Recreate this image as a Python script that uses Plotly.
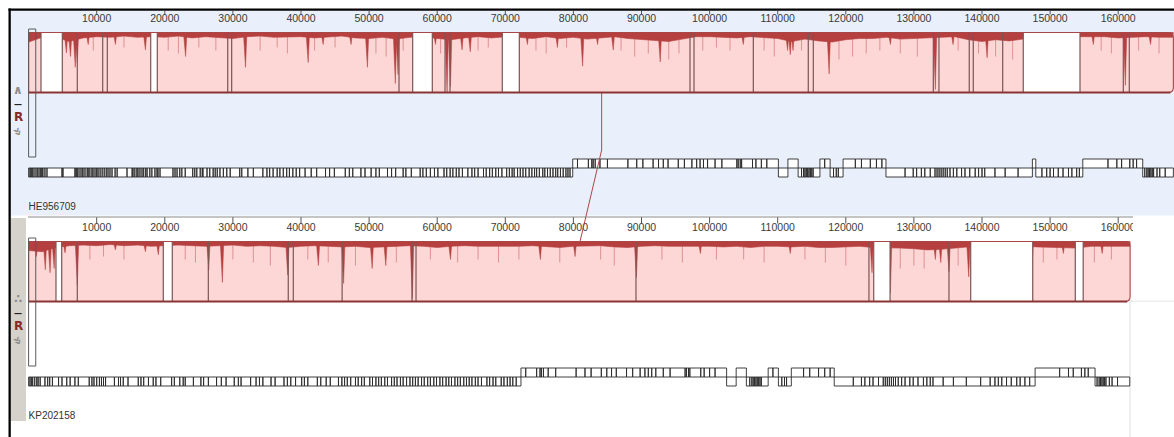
import plotly.graph_objects as go

W, H = 1174, 437

# ---------------- data ----------------
genome_names = ["HE956709", "KP202158"]
genome_lengths = [168100, 161750]

tick_values = [10000, 20000, 30000, 40000, 50000, 60000, 70000, 80000,
               90000, 100000, 110000, 120000, 130000, 140000, 150000, 160000]
tick_labels = [str(v) for v in tick_values]

# unaligned (white) stretches inside the block, bp
gap_starts_he = [1820, 17930, 56400, 69560, 146060]
gap_ends_he = [4950, 18900, 59280, 72060, 154390]
gap_starts_kp = [4020, 19780, 124100, 138340, 153700]
gap_ends_kp = [4860, 21100, 126500, 147450, 154860]

# block boundary lines, bp
lines_he = [1820, 4950, 7150, 10880, 11560, 17930, 18900, 29240, 29820, 54390,
            56400, 59280, 61150, 61880, 69560, 72060, 97120, 97710, 106420,
            114490, 115230, 132850, 133680, 138130, 138720, 143040, 146060,
            154390, 160750, 161630]
lines_kp = [4020, 4860, 7150, 19780, 21100, 26390, 38130, 38870, 46040, 56300,
            56890, 89190, 123400, 124100, 126500, 135150, 138340, 147450,
            153700, 154860]

# similarity fringe depth (fraction of block height), one value every 2 kb
fringe_he = [0.16, 0.08, 0.08, 0.15, 0.09, 0.07, 0.08, 0.06, 0.08, 0.07,
             0.08, 0.06, 0.09, 0.07, 0.08, 0.10, 0.07, 0.06, 0.08, 0.07,
             0.07, 0.09, 0.07, 0.06, 0.09, 0.10, 0.08, 0.11, 0.08, 0.07,
             0.10, 0.12, 0.09, 0.07, 0.09, 0.07, 0.08, 0.10, 0.07, 0.10,
             0.08, 0.11, 0.09, 0.07, 0.10, 0.12, 0.13, 0.15, 0.11, 0.07,
             0.07, 0.08, 0.09, 0.07, 0.09, 0.10, 0.15, 0.11, 0.14, 0.16,
             0.12, 0.10, 0.10, 0.08, 0.11, 0.10, 0.08, 0.07, 0.07, 0.12,
             0.15, 0.12, 0.14, 0.11, 0.07, 0.07, 0.07, 0.08, 0.08, 0.07,
             0.09, 0.08, 0.07, 0.08, 0.08]
fringe_kp = [0.15, 0.17, 0.10, 0.07, 0.06, 0.07, 0.05, 0.07, 0.06, 0.08,
             0.07, 0.06, 0.07, 0.08, 0.07, 0.06, 0.08, 0.07, 0.08, 0.10,
             0.08, 0.07, 0.08, 0.09, 0.08, 0.10, 0.09, 0.08, 0.07, 0.08,
             0.10, 0.08, 0.07, 0.08, 0.08, 0.09, 0.08, 0.07, 0.09, 0.10,
             0.08, 0.08, 0.07, 0.09, 0.10, 0.08, 0.07, 0.08, 0.08, 0.07,
             0.08, 0.09, 0.08, 0.10, 0.08, 0.08, 0.09, 0.08, 0.10, 0.10,
             0.09, 0.08, 0.10, 0.10, 0.11, 0.12, 0.14, 0.13, 0.11, 0.10,
             0.07, 0.07, 0.07, 0.07, 0.09, 0.10, 0.10, 0.11, 0.08, 0.08,
             0.08, 0.08]

# low-similarity spikes: position (bp) and depth (fraction of block height)
spike_pos_he = [5500, 6100, 6800, 7100, 8700, 12700, 17100, 23000, 31800, 41000,
                43200, 47300, 49700, 53800, 54200, 59700, 61400, 61900, 63600,
                64800, 73200, 77600, 81300, 83500, 85800, 92700, 104900, 111400,
                111800, 112200, 117500, 126500, 133100, 135700, 140700, 156300,
                161000, 164700]
spike_dep_he = [0.34, 0.40, 0.58, 0.50, 0.20, 0.20, 0.29, 0.40, 0.58, 0.50,
                0.20, 0.20, 0.58, 0.85, 0.70, 0.20, 1.00, 0.90, 0.29,
                0.32, 0.20, 0.25, 0.56, 0.20, 0.29, 0.49, 0.20, 0.30,
                0.37, 0.30, 0.69, 0.20, 0.95, 0.20, 0.42, 0.20,
                0.88, 0.20]
spike_pos_kp = [1100, 2400, 3100, 3700, 5300, 7100, 12700, 17100, 19000, 26400,
                28400, 38000, 42500, 46200, 50400, 52400, 56300, 61900, 75100,
                80200, 89200, 98600, 111800, 123800, 126500, 133100, 133900,
                135100, 138000, 147300, 151900, 154400, 157600]
spike_dep_kp = [0.25, 0.47, 0.52, 0.45, 0.19, 0.73, 0.14, 0.17, 0.22, 0.47,
                0.68, 0.56, 0.40, 0.70, 0.45, 0.40, 0.95, 0.30, 0.30,
                0.25, 0.60, 0.20, 0.20, 0.52, 0.86, 0.30, 0.35,
                0.50, 0.59, 0.40, 0.20, 0.93, 0.20]

# faint hairline dips in the similarity profile: position (kb), depth (fraction)
hair_pos_he = [9.5, 14, 20.5, 22, 25, 27.5, 34, 36.5, 38, 42, 45, 51, 52.5, 55,
               60.5, 66, 67.5, 74.5, 76, 79, 87, 89, 91, 94, 95.5, 99, 101, 103,
               108, 109.5, 113.5, 119, 121, 123, 125, 128, 130.5, 136.5, 139.5,
               142, 144.5, 157.5, 159, 163, 166]
hair_dep_he = [0.30, 0.25, 0.30, 0.35, 0.25, 0.30, 0.30, 0.25, 0.35, 0.30, 0.25,
               0.35, 0.40, 0.30, 0.35, 0.30, 0.25, 0.30, 0.35, 0.25, 0.30, 0.40,
               0.35, 0.45, 0.35, 0.30, 0.25, 0.30, 0.30, 0.40, 0.30, 0.45, 0.40,
               0.35, 0.30, 0.35, 0.40, 0.30, 0.35, 0.40, 0.45, 0.30, 0.35, 0.30,
               0.35]
hair_pos_kp = [9, 11, 14, 23, 24.5, 30, 33, 35.5, 41, 44, 48, 54, 59, 63, 66, 69,
               72, 78, 84, 86, 93, 96, 101, 105, 108, 114, 117, 120, 128, 130,
               131.5, 136.5, 149, 151, 156.5, 159]
hair_dep_kp = [0.30, 0.25, 0.30, 0.30, 0.35, 0.30, 0.35, 0.40, 0.30, 0.35, 0.40,
               0.35, 0.30, 0.35, 0.30, 0.35, 0.30, 0.35, 0.30, 0.40, 0.30, 0.35,
               0.30, 0.30, 0.35, 0.30, 0.35, 0.40, 0.45, 0.40, 0.45, 0.40, 0.35,
               0.30, 0.35, 0.30]

# gene annotations: (strand, consecutive gene boundaries in kb)
genes_he = [
    (-1, [0.0, 0.2, 0.35, 0.5, 0.65, 0.94, 1.23, 1.38, 1.67, 1.82, 1.97, 2.1, 2.4,
          2.7, 4.9, 5.05, 6.8, 6.96, 7.1, 7.25, 7.55, 7.84, 7.99, 8.28, 8.6, 8.75,
          9.0, 9.3, 9.46, 9.75, 10.0, 10.2, 10.5, 10.8, 11.1, 11.4, 11.66, 11.95,
          12.25, 12.7, 13.0, 14.45, 15.2, 15.33, 15.6, 15.9, 16.06, 16.35, 16.65,
          16.9, 17.2, 17.4, 17.8, 18.1, 18.55, 18.85, 19.0, 19.3, 21.2, 21.5, 21.8,
          22.2, 22.5, 23.0, 24.1, 24.4, 24.7, 25.2, 25.5, 25.6, 26.2, 26.6, 27.1,
          27.4, 27.7, 28.1, 28.6, 29.1, 29.6, 31.0, 31.3, 32.2, 33.0, 34.4, 35.0,
          35.4, 35.9, 36.5, 36.9, 37.4, 37.9, 38.3, 38.8, 39.3, 39.8, 40.6, 41.5,
          42.3, 43.6, 44.2, 44.9, 46.5, 47.1, 47.6, 48.8, 49.4, 50.3, 51.0, 51.5,
          52.7, 53.3, 53.9, 55.0, 55.4, 56.2, 57.5, 57.9, 58.4, 59.0, 59.6, 60.1,
          61.0, 61.4, 61.9, 62.3, 62.8, 63.2, 63.7, 64.5, 65.1, 65.5, 66.0, 66.8,
          67.2, 67.7, 68.1, 68.6, 69.0, 69.5, 70.2, 70.6, 71.0, 71.3, 71.8, 72.2,
          72.6, 73.0, 73.5, 73.9, 74.3, 74.6, 75.0, 75.5, 75.8, 76.2, 76.6, 77.0,
          77.4, 77.7, 78.1, 78.5, 78.9, 79.2, 79.5, 79.9]),
    (1, [79.9, 80.6, 82.2, 82.7, 82.9, 83.2, 83.9, 85.0, 88.0, 89.3, 90.2, 91.7,
         92.5, 93.2, 93.9, 95.4, 96.3, 97.4, 98.1, 98.6, 99.1, 99.7, 100.8, 101.8,
         104.0, 104.2, 104.5, 104.7, 106.3, 106.8, 107.6, 108.4, 110.1]),
    (-1, [110.1, 111.5]),
    (1, [111.5, 113.0]),
    (-1, [113.0, 113.5, 113.8, 114.0, 114.2, 114.4, 114.6, 114.8, 115.0, 115.2, 116.2]),
    (1, [116.2, 116.9, 117.7]),
    (-1, [117.7, 118.2, 118.6, 118.9, 119.6]),
    (1, [119.6, 121.4, 122.3, 123.6, 124.5, 125.3, 125.9]),
    (-1, [125.9, 128.7, 129.9, 130.4, 131.1, 131.6, 132.4, 133.1, 133.4, 133.7,
          134.0, 134.3, 134.6, 134.9, 135.3, 135.8, 136.3, 137.0, 137.5, 138.2,
          139.0, 139.5, 140.0, 140.4, 141.9, 143.4, 145.3, 147.4]),
    (1, [147.4, 147.9]),
    (-1, [147.9, 148.8, 149.5, 150.0, 150.5, 151.2, 151.9, 152.7, 153.2, 153.9,
          154.3, 154.8]),
    (1, [154.8, 158.5, 159.8, 160.5, 161.7, 162.2, 162.7, 163.6]),
    (-1, [163.6, 163.9, 164.2, 164.4, 164.6, 164.8, 165.0, 165.2, 165.7, 166.1,
          166.9, 168.1]),
]
genes_kp = [
    (-1, [0.0, 0.2, 0.4, 0.6, 0.9, 1.2, 1.4, 1.7, 2.4, 2.8, 3.1, 3.5, 4.4, 4.9, 5.6,
          6.1, 6.8, 7.3, 8.9, 9.3, 9.6, 10.0, 10.4, 10.7, 11.0, 11.3, 12.6, 13.2,
          13.5, 13.9, 14.6, 16.1, 16.5, 16.9, 17.6, 18.3, 18.7, 19.4, 21.0, 21.4,
          22.2, 22.7, 23.0, 24.2, 25.3, 25.7, 26.4, 27.6, 28.3, 29.0, 30.2, 30.8,
          31.2, 32.6, 33.4, 33.9, 34.4, 35.6, 36.2, 37.5, 38.0, 38.5, 39.2, 40.1,
          40.5, 41.0, 42.4, 42.9, 43.7, 44.3, 45.5, 46.0, 46.4, 46.8, 47.3, 48.0,
          48.4, 48.9, 49.3, 50.1, 50.5, 51.0, 51.4, 51.8, 52.3, 52.7, 53.3, 53.7,
          54.1, 54.6, 55.0, 55.5, 56.0, 56.4, 56.8, 57.2, 57.7, 58.1, 58.6, 59.0,
          59.5, 59.9, 60.4, 60.8, 61.3, 61.7, 62.1, 62.6, 63.0, 63.4, 63.9, 64.3,
          64.7, 65.1, 65.6, 66.0, 66.5, 67.3, 67.7, 68.2, 68.6, 69.4, 69.8, 70.3,
          70.7, 71.1, 71.6, 72.3]),
    (1, [72.3, 73.0, 74.6, 75.1, 75.3, 75.6, 76.3, 77.4, 80.4, 81.7, 82.6, 84.1,
         84.9, 85.6, 86.3, 87.8, 88.7, 89.8, 90.5, 91.0, 91.5, 92.1, 93.2, 94.2,
         96.4, 96.6, 96.9, 97.1, 98.7, 99.2, 100.0, 100.8, 102.5]),
    (-1, [102.5, 103.9]),
    (1, [103.9, 105.4]),
    (-1, [105.4, 105.9, 106.2, 106.4, 106.6, 106.8, 107.0, 107.2, 107.4, 107.6, 108.6]),
    (1, [108.6, 109.3, 110.1]),
    (-1, [110.1, 110.6, 111.0, 111.3, 112.0]),
    (1, [112.0, 113.8, 114.7, 116.0, 116.9, 117.7, 118.3]),
    (-1, [118.3, 121.1, 122.3, 122.8, 123.5, 124.0, 124.8, 125.5, 125.8, 126.1,
          126.4, 126.7, 127.0, 127.3, 127.7, 128.2, 128.7, 129.4, 129.9, 130.6,
          131.4, 131.9, 132.4, 132.8, 134.3, 135.8, 137.7, 139.8, 141.2, 141.9,
          142.4, 142.9, 143.6, 144.3, 145.1, 145.6, 146.3, 147.0, 147.8]),
    (1, [147.8, 151.4, 152.7, 153.4, 154.6, 155.1, 155.6, 156.6]),
    (-1, [156.6, 156.9, 157.2, 157.4, 157.6, 157.8, 158.0, 158.2, 158.7, 159.1,
          159.9, 161.7]),
]

cursor_positions = [84150, 80970]   # highlighted homologous site in each genome

# ---------------- style ----------------
PX0 = 28.6            # pixel of position 0
PX_PER_BP = 0.00681
PANEL_DY = [0, 209]
BLOCK_TOP, BLOCK_BOT = 32.5, 92.5
FWD_Y, MID_Y, REV_Y = 159.0, 168.0, 177.0
TICK_Y0, TICK_Y1, LABEL_Y = 8.0, 14.5, 19.0
NAME_Y = 207.0
FRINGE_STEP = 2000
SPIKE_HW = 260
CORNER_PX = 5

PINK = "#fdd6d6"
FRINGE = "#b6403f"
HAIR = "rgba(182,64,63,0.45)"
OUTLINE = "#a94646"
SEP = "#7a5656"
GENE_LINE = "#2a2a2a"
PANEL_BG = "#e9f0fb"
FONT = "Liberation Sans, Arial, sans-serif"

xmin = -PX0 / PX_PER_BP
xmax = (W - PX0) / PX_PER_BP


def paper_x(px):
    return px / W


fig = go.Figure()
shapes = []
annotations = []

# panel backgrounds and window frame
shapes.append(dict(type="rect", xref="paper", yref="y", x0=paper_x(11), x1=1,
                   y0=11, y1=215.5, fillcolor=PANEL_BG, line=dict(width=0), layer="below"))
shapes.append(dict(type="rect", xref="paper", yref="y", x0=paper_x(11), x1=paper_x(26),
                   y0=218, y1=421, fillcolor="#d5d2cc", line=dict(width=0), layer="below"))
shapes.append(dict(type="rect", xref="paper", yref="y", x0=paper_x(8.5), x1=paper_x(10.8),
                   y0=8.5, y1=H, fillcolor="#000000", line=dict(width=0), layer="below"))
shapes.append(dict(type="rect", xref="paper", yref="y", x0=paper_x(8.5), x1=1,
                   y0=8.5, y1=10.8, fillcolor="#000000", line=dict(width=0), layer="below"))
shapes.append(dict(type="line", xref="paper", yref="y", x0=paper_x(1130), x1=paper_x(1130),
                   y0=300, y1=H, line=dict(color="#dedede", width=1), layer="below"))
shapes.append(dict(type="line", xref="paper", yref="y", x0=paper_x(1130), x1=1,
                   y0=301, y1=301, line=dict(color="#dedede", width=1), layer="below"))

fringes = [fringe_he, fringe_kp]
spikes = [(spike_pos_he, spike_dep_he), (spike_pos_kp, spike_dep_kp)]
hairs = [(hair_pos_he, hair_dep_he), (hair_pos_kp, hair_dep_kp)]
gaps = [(gap_starts_he, gap_ends_he), (gap_starts_kp, gap_ends_kp)]
seps = [lines_he, lines_kp]
genes = [genes_he, genes_kp]

r_bp = CORNER_PX / PX_PER_BP

for g in range(2):
    dy = PANEL_DY[g]
    L = genome_lengths[g]
    top, bot = BLOCK_TOP + dy, BLOCK_BOT + dy
    h = bot - top

    block_path = (f"M 0,{top} L {L - r_bp},{top} Q {L},{top} {L},{top + CORNER_PX} "
                  f"L {L},{bot - CORNER_PX} Q {L},{bot} {L - r_bp},{bot} L 0,{bot} Z")
    shapes.append(dict(type="path", xref="x", yref="y", path=block_path,
                       fillcolor=PINK, line=dict(width=0), layer="below"))

    # faint hairline dips
    hx, hy = [], []
    for p, d in zip(*hairs[g]):
        hx += [p * 1000, p * 1000, None]
        hy += [top, top + d * h, None]
    fig.add_trace(go.Scatter(x=hx, y=hy, mode="lines", line=dict(width=1, color=HAIR),
                             hoverinfo="skip"))

    # similarity fringe
    fx, fy = [0], [top]
    for i, d in enumerate(fringes[g]):
        fx.append(min(i * FRINGE_STEP, L))
        fy.append(top + d * h)
    fx += [L, 0]
    fy += [top, top]
    fig.add_trace(go.Scatter(x=fx, y=fy, mode="lines", fill="toself", fillcolor=FRINGE,
                             line=dict(width=0.6, color=FRINGE), hoverinfo="skip"))

    # spikes
    sx, sy = [], []
    for p, d in zip(*spikes[g]):
        sx += [p - SPIKE_HW, p - SPIKE_HW * 0.2, p + SPIKE_HW * 0.2, p + SPIKE_HW, None]
        sy += [top, top + d * h, top + d * h, top, None]
    fig.add_trace(go.Scatter(x=sx, y=sy, mode="lines", fill="toself", fillcolor=FRINGE,
                             line=dict(width=0.5, color=FRINGE), hoverinfo="skip"))

    # unaligned gaps
    gx, gy = [], []
    for a, b in zip(*gaps[g]):
        gx += [a, b, b, a, a, None]
        gy += [top + 0.6, top + 0.6, bot - 0.6, bot - 0.6, top + 0.6, None]
    fig.add_trace(go.Scatter(x=gx, y=gy, mode="lines", fill="toself", fillcolor="#ffffff",
                             line=dict(width=0), hoverinfo="skip"))

    # boundary lines
    lx, ly = [], []
    for p in seps[g]:
        lx += [p, p, None]
        ly += [top, bot, None]
    fig.add_trace(go.Scatter(x=lx, y=ly, mode="lines", line=dict(width=1.2, color=SEP),
                             hoverinfo="skip"))

    # block outline
    shapes.append(dict(type="path", xref="x", yref="y", path=block_path,
                       fillcolor="rgba(0,0,0,0)", line=dict(width=1.1, color=OUTLINE),
                       layer="above"))
    shapes.append(dict(type="line", xref="x", yref="y", x0=0, x1=L - r_bp * 0.6,
                       y0=bot, y1=bot, line=dict(width=1.8, color="#8a3434"), layer="above"))

    # gray selection frame at the left
    shapes.append(dict(type="rect", xref="x", yref="y", x0=0, x1=1050,
                       y0=top - 3.5, y1=157 + dy, fillcolor="rgba(0,0,0,0)",
                       line=dict(width=1, color="#5a5a5a"), layer="above"))

    # genes
    bx, by = [], []
    for strand, bounds in genes[g]:
        y0, y1 = (FWD_Y, MID_Y) if strand > 0 else (MID_Y, REV_Y)
        y0 += dy
        y1 += dy
        for a, b in zip(bounds[:-1], bounds[1:]):
            a *= 1000
            b *= 1000
            bx += [a, b, b, a, a, None]
            by += [y0, y0, y1, y1, y0, None]
    fig.add_trace(go.Scatter(x=bx, y=by, mode="lines", fill="toself", fillcolor="#ffffff",
                             line=dict(width=0.9, color=GENE_LINE), hoverinfo="skip"))

    # ruler
    tx, ty = [], []
    for t in tick_values:
        tx += [t, t, None]
        ty += [TICK_Y0 + dy + (3 if g == 0 else 0), TICK_Y1 + dy, None]
    fig.add_trace(go.Scatter(x=tx, y=ty, mode="lines", line=dict(width=1, color="#555555"),
                             hoverinfo="skip"))
    if g == 1:
        fig.add_trace(go.Scatter(x=[-100, 162400], y=[TICK_Y0 + dy, TICK_Y0 + dy], mode="lines",
                                 line=dict(width=1, color="#8a8a8a"), hoverinfo="skip"))
    fig.add_trace(go.Scatter(x=tick_values, y=[LABEL_Y + dy] * len(tick_values), mode="text",
                             text=tick_labels, textposition="middle center",
                             textfont=dict(family=FONT, size=10.5, color="#3a3a3a"),
                             hoverinfo="skip"))

    # genome name
    fig.add_trace(go.Scatter(x=[0], y=[NAME_Y + dy], mode="text", text=[genome_names[g]],
                             textposition="middle right",
                             textfont=dict(family=FONT, size=10, color="#333333"),
                             hoverinfo="skip"))

    # side controls
    icons = [("∧" if g == 0 else "∴", 90, "#8c8c8c", 12, True, 0),
             ("—", 104, "#222222", 8, True, 0),
             ("R", 117, "#8a2a22", 12, True, 0),
             ("»", 131, "#8c8c8c", 14, True, 60)]
    for txt, yy, col, sz, bold, ang in icons:
        annotations.append(dict(xref="paper", yref="y", x=paper_x(18), y=yy + dy,
                                xanchor="center", yanchor="middle",
                                text=f"<b>{txt}</b>" if bold else txt, showarrow=False,
                                font=dict(family="DejaVu Sans, " + FONT, size=sz, color=col),
                                textangle=ang))

# connection line between the homologous sites
c0, c1 = cursor_positions
fig.add_trace(go.Scatter(x=[c0, c0, c1], y=[BLOCK_BOT, 150, BLOCK_TOP + PANEL_DY[1]],
                         mode="lines", line=dict(width=1, color="#b04545"), hoverinfo="skip"))

# bottom panel viewport ends at the right
shapes.append(dict(type="rect", xref="paper", yref="y", x0=paper_x(1133), x1=1,
                   y0=216, y1=300.5, fillcolor="#ffffff", line=dict(width=0), layer="above"))

fig.update_layout(
    width=W, height=H, margin=dict(l=0, r=0, t=0, b=0),
    paper_bgcolor="#ffffff", plot_bgcolor="#ffffff", showlegend=False,
    xaxis=dict(range=[xmin, xmax], visible=False, fixedrange=True),
    yaxis=dict(range=[H, 0], visible=False, fixedrange=True),
    shapes=shapes, annotations=annotations,
)

fig.write_html("out.html", config={"displayModeBar": False},
               post_script="document.body.style.margin='0px';document.body.style.overflow='hidden';")
